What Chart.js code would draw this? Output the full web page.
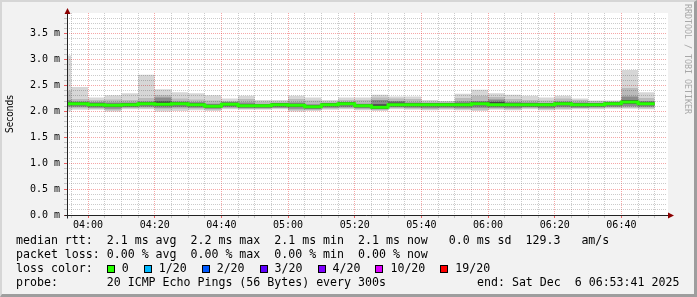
<!DOCTYPE html>
<html>
<head>
<meta charset="utf-8">
<script src="https://cdn.jsdelivr.net/npm/chart.js@4/dist/chart.umd.min.js"></script>
<style>
html, body { margin: 0; padding: 0; background: #f2f2f2; }
#wrap { position: relative; width: 697px; height: 297px; overflow: hidden; background: #f2f2f2;
        font-family: 'DejaVu Sans Mono', monospace; color: #000; }
#wrap canvas { position: absolute; left: 0; top: 0; }
#frame { position: absolute; left: 0; top: 0; width: 697px; height: 297px; box-sizing: border-box;
         border-style: solid; border-width: 2px 3px 3px 2px;
         border-color: #d6d6d6 #9e9e9e #9e9e9e #d6d6d6; pointer-events: none; }
.ln { position: absolute; left: 16px; font-size: 11.6px; line-height: 14px; white-space: pre; }
.box { display: inline-block; width: 6px; height: 6px; border: 1px solid #000; vertical-align: -1px; margin-right: 7px; }
.lbl { margin-right: 15px; }
#credit { position: absolute; left: 683px; top: 4px; writing-mode: vertical-rl; font-size: 8.3px;
          line-height: 10px; color: #a8a8a8; white-space: pre; }
</style>
</head>
<body>
<div id="wrap">
  <canvas id="smoke" width="697" height="297"></canvas>
  <div class="ln" style="top:233px">median rtt:  2.1 ms avg  2.2 ms max  2.1 ms min  2.1 ms now   0.0 ms sd  129.3   am/s</div>
  <div class="ln" style="top:247px">packet loss: 0.00 % avg  0.00 % max  0.00 % min  0.00 % now</div>
  <div class="ln" id="losses" style="top:261px">loss color:  </div>
  <div class="ln" style="top:275px">probe:       20 ICMP Echo Pings (56 Bytes) every 300s</div>
  <div class="ln" style="top:275px;left:477px">end: Sat Dec  6 06:53:41 2025</div>
  <div id="credit">RRDTOOL / TOBI OETIKER</div>
  <div id="frame"></div>
</div>
<script>
// time window of the graph
const startTime = '03:53:41';
const endTime = '06:53:41';

// 5 minute steps (start of each step), last step ends at stepEnd
const steps = ['03:50', '03:55', '04:00', '04:05', '04:10', '04:15', '04:20', '04:25', '04:30', '04:35',
    '04:40', '04:45', '04:50', '04:55', '05:00', '05:05', '05:10', '05:15', '05:20', '05:25',
    '05:30', '05:35', '05:40', '05:45', '05:50', '05:55', '06:00', '06:05', '06:10', '06:15',
    '06:20', '06:25', '06:30', '06:35', '06:40', '06:45'];
const stepEnd = '06:50';

// rtt in ms
const median = [2.15, 2.15, 2.13, 2.12, 2.13, 2.15, 2.14, 2.15, 2.13, 2.10, 2.14, 2.11, 2.11, 2.13, 2.12, 2.09, 2.13, 2.15,
    2.11, 2.08, 2.13, 2.13, 2.13, 2.13, 2.13, 2.15, 2.13, 2.13, 2.13, 2.13, 2.15, 2.13, 2.13, 2.15, 2.18, 2.15];
const maxRtt = [3.08, 2.47, 2.27, 2.31, 2.35, 2.71, 2.43, 2.37, 2.35, 2.31, 2.25, 2.30, 2.22, 2.22, 2.30, 2.27, 2.22, 2.27,
    2.27, 2.32, 2.29, 2.29, 2.22, 2.20, 2.34, 2.42, 2.35, 2.32, 2.30, 2.27, 2.30, 2.25, 2.21, 2.21, 2.80, 2.37];
const upper2 = [2.40, 2.24, 2.22, 2.23, 2.22, 2.26, 2.31, 2.25, 2.23, 2.21, 2.20, 2.24, 2.19, 2.19, 2.24, 2.21, 2.19, 2.22,
    2.22, 2.27, 2.25, 2.24, 2.19, 2.19, 2.26, 2.30, 2.28, 2.24, 2.22, 2.21, 2.25, 2.22, 2.20, 2.20, 2.45, 2.26];
const upper3 = [2.22, 2.19, 2.18, 2.17, 2.17, 2.19, 2.27, 2.19, 2.18, 2.15, 2.17, 2.17, 2.14, 2.16, 2.17, 2.14, 2.16, 2.18,
    2.15, 2.22, 2.20, 2.17, 2.16, 2.16, 2.19, 2.20, 2.23, 2.18, 2.17, 2.16, 2.19, 2.17, 2.16, 2.18, 2.29, 2.20];
const upper4 = [2.18, 2.18, 2.16, 2.15, 2.16, 2.18, 2.19, 2.18, 2.16, 2.13, 2.17, 2.14, 2.14, 2.16, 2.15, 2.12, 2.16, 2.18,
    2.14, 2.14, 2.17, 2.16, 2.16, 2.16, 2.16, 2.18, 2.18, 2.16, 2.16, 2.16, 2.18, 2.16, 2.16, 2.18, 2.22, 2.18];
const lower4 = [2.12, 2.12, 2.10, 2.09, 2.10, 2.12, 2.11, 2.12, 2.10, 2.07, 2.11, 2.08, 2.08, 2.10, 2.09, 2.06, 2.10, 2.12,
    2.08, 2.05, 2.10, 2.10, 2.10, 2.10, 2.10, 2.12, 2.10, 2.10, 2.10, 2.10, 2.12, 2.10, 2.10, 2.12, 2.15, 2.12];
const lower3 = [2.09, 2.09, 2.07, 2.05, 2.08, 2.09, 2.07, 2.08, 2.07, 2.05, 2.08, 2.06, 2.06, 2.07, 2.05, 2.04, 2.07, 2.08,
    2.06, 2.04, 2.08, 2.07, 2.06, 2.07, 2.06, 2.07, 2.07, 2.06, 2.08, 2.06, 2.08, 2.07, 2.08, 2.09, 2.10, 2.09];
const lower2 = [2.05, 2.06, 2.05, 2.02, 2.06, 2.06, 2.04, 2.05, 2.05, 2.03, 2.06, 2.05, 2.05, 2.06, 2.02, 2.03, 2.05, 2.06,
    2.04, 2.03, 2.06, 2.05, 2.04, 2.05, 2.04, 2.03, 2.05, 2.04, 2.06, 2.04, 2.05, 2.06, 2.06, 2.07, 2.07, 2.06];
const minRtt = [2.00, 2.03, 2.03, 2.00, 2.04, 2.04, 2.00, 2.01, 2.02, 2.01, 2.04, 2.03, 2.03, 2.04, 2.00, 2.01, 2.03, 2.04,
    2.02, 2.01, 2.04, 2.03, 2.02, 2.03, 2.02, 2.01, 2.03, 2.02, 2.04, 2.02, 2.03, 2.04, 2.04, 2.05, 2.05, 2.04];

// axis labels
const timeLabels = ['04:00', '04:20', '04:40', '05:00', '05:20', '05:40', '06:00', '06:20', '06:40'];
const rttLabels = [0.0, 0.5, 1.0, 1.5, 2.0, 2.5, 3.0, 3.5];

// loss legend
const lossNames = ['0', '1/20', '2/20', '3/20', '4/20', '10/20', '19/20'];
const lossColors = ['#26ff00', '#00b8ff', '#0059ff', '#5e00ff', '#7e00ff', '#dd00ff', '#ff0000'];

const GRID = 'rgba(140,140,140,0.45)';
const MGRID = 'rgba(230,0,0,0.35)';
const MONO = "'DejaVu Sans Mono', monospace";

function sec(t) {
    const p = t.split(':').map(Number);
    return p[0] * 3600 + p[1] * 60 + (p[2] || 0);
}

function pts(values) {
    const out = values.map((v, i) => ({ x: sec(steps[i]), y: v }));
    out.push({ x: sec(stepEnd), y: values[values.length - 1] });
    return out;
}

// legend boxes
const lossDiv = document.getElementById('losses');
lossNames.forEach((n, i) => {
    const b = document.createElement('span');
    b.className = 'box';
    b.style.background = lossColors[i];
    const l = document.createElement('span');
    l.className = 'lbl';
    l.textContent = n;
    lossDiv.appendChild(b);
    lossDiv.appendChild(l);
});

function band(lo, hi, color, order) {
    return [
        { data: pts(lo), borderWidth: 0, borderColor: 'rgba(0,0,0,0)', fill: false, order: order },
        { data: pts(hi), borderWidth: 0, borderColor: 'rgba(0,0,0,0)', backgroundColor: color, fill: '-1', order: order }
    ];
}

const timeTicks = timeLabels.map(sec);

const plotBack = {
    id: 'plotBack',
    beforeDraw(chart) {
        const a = chart.chartArea, ctx = chart.ctx;
        ctx.save();
        ctx.fillStyle = '#ffffff';
        ctx.fillRect(a.left, a.top, a.right - a.left + 1, a.bottom - a.top);
        ctx.restore();
    }
};

const arrows = {
    id: 'arrows',
    afterDraw(chart) {
        const a = chart.chartArea, ctx = chart.ctx;
        const x0 = Math.round(a.left) + 0.5, y0 = Math.round(a.bottom) + 0.5;
        ctx.save();
        ctx.strokeStyle = '#222';
        ctx.lineWidth = 1;
        ctx.beginPath();
        ctx.moveTo(x0, y0 + 3);
        ctx.lineTo(x0, a.top - 1);
        ctx.moveTo(x0 - 3, y0);
        ctx.lineTo(a.right + 2, y0);
        ctx.stroke();
        ctx.fillStyle = '#8b0000';
        ctx.beginPath();
        ctx.moveTo(x0, a.top - 5);
        ctx.lineTo(x0 - 3, a.top + 1);
        ctx.lineTo(x0 + 3, a.top + 1);
        ctx.closePath();
        ctx.fill();
        ctx.beginPath();
        ctx.moveTo(a.right + 7, y0);
        ctx.lineTo(a.right + 1, y0 - 3);
        ctx.lineTo(a.right + 1, y0 + 3);
        ctx.closePath();
        ctx.fill();
        ctx.restore();
    }
};

new Chart(document.getElementById('smoke').getContext('2d'), {
    type: 'line',
    data: {
        datasets: [
            ...band(minRtt, maxRtt, 'rgba(0,0,0,0.16)', 5),
            ...band(lower2, upper2, 'rgba(0,0,0,0.13)', 4),
            ...band(lower3, upper3, 'rgba(0,0,0,0.25)', 3),
            ...band(lower4, upper4, 'rgba(0,0,0,0.5)', 2),
            { label: 'median rtt', data: pts(median), borderColor: '#26ff00', borderWidth: 3, fill: false, order: 1 }
        ]
    },
    options: {
        responsive: false,
        animation: false,
        devicePixelRatio: 1,
        layout: { padding: { left: 0, top: 13, right: 30, bottom: 0 } },
        elements: {
            point: { radius: 0, hoverRadius: 0 },
            line: { stepped: true, tension: 0 }
        },
        plugins: { legend: { display: false }, tooltip: { enabled: false } },
        events: [],
        scales: {
            x: {
                type: 'linear',
                min: sec(startTime),
                max: sec(endTime),
                afterFit: s => { s.height = 82; },
                afterBuildTicks: s => {
                    const t = [];
                    for (let v = Math.ceil(s.min / 300) * 300; v <= s.max; v += 300) t.push({ value: v });
                    s.ticks = t;
                },
                ticks: {
                    autoSkip: false,
                    maxRotation: 0,
                    padding: 1,
                    color: '#000',
                    font: { family: MONO, size: 10 },
                    callback: v => {
                        const i = timeTicks.indexOf(v);
                        return i >= 0 ? timeLabels[i] : '';
                    }
                },
                grid: {
                    color: c => (c.tick && c.tick.value % 1200 === 0) ? MGRID : GRID,
                    tickColor: c => (c.tick && c.tick.value % 1200 === 0) ? 'rgba(230,0,0,0.6)' : GRID,
                    tickBorderDash: [],
                    tickLength: 3
                },
                border: { display: false, dash: [1, 1] }
            },
            y: {
                min: 0,
                max: 3.9,
                afterFit: s => { s.width = 67; },
                afterBuildTicks: s => {
                    const t = [];
                    for (let i = 0; i <= 38; i++) t.push({ value: i / 10 });
                    s.ticks = t;
                },
                ticks: {
                    autoSkip: false,
                    padding: 4,
                    color: '#000',
                    font: { family: MONO, size: 10 },
                    callback: v => {
                        const l = rttLabels.find(r => Math.abs(r - v) < 1e-6);
                        return l !== undefined ? l.toFixed(1) + ' m' : '';
                    }
                },
                grid: {
                    color: c => (c.tick && Math.round(c.tick.value * 10) % 5 === 0) ? MGRID : GRID,
                    tickColor: c => (c.tick && Math.round(c.tick.value * 10) % 5 === 0) ? 'rgba(230,0,0,0.6)' : GRID,
                    tickBorderDash: [],
                    tickLength: 3
                },
                border: { display: false, dash: [1, 1] },
                title: {
                    display: true,
                    text: 'Seconds',
                    color: '#000',
                    padding: { top: 4, bottom: 0 },
                    font: { family: "'DejaVu Sans Condensed', 'DejaVu Sans', sans-serif", size: 10 }
                }
            }
        }
    },
    plugins: [plotBack, arrows]
});
</script>
</body>
</html>
